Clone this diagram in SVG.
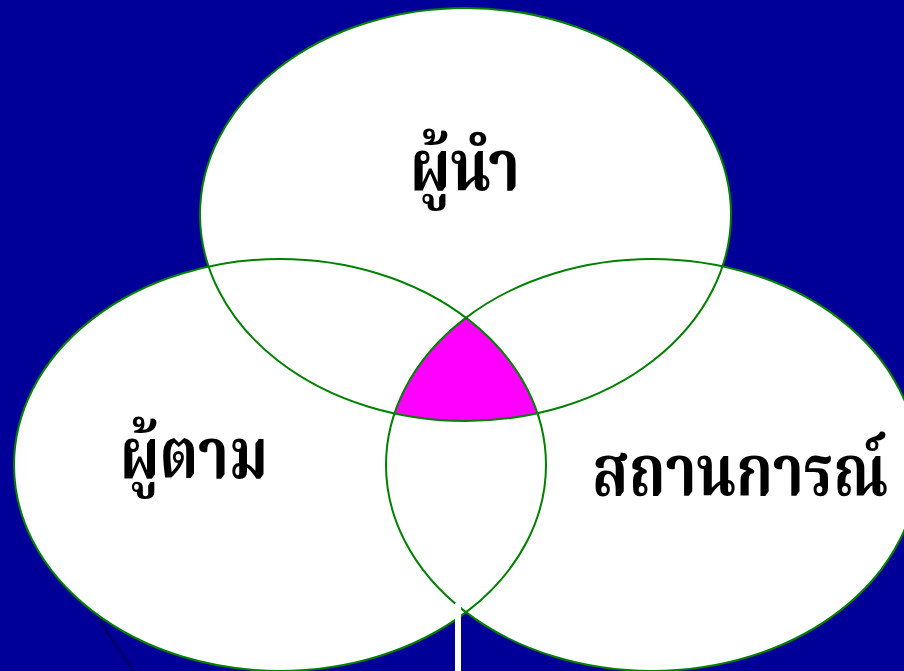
<svg xmlns="http://www.w3.org/2000/svg" width="904" height="671" viewBox="0 0 904 671">
<style>
.ell{fill:#ffffff;stroke:none}
.out{fill:none;stroke:#008000;stroke-width:2}
.lbl{font-family:"Noto Serif Thai","Noto Sans Thai","Tlwg Typo","Noto Sans",serif;font-weight:bold;fill:#000000;text-anchor:middle}
</style>
<defs>
<clipPath id="cl"><ellipse cx="280" cy="465" rx="266" ry="206"/></clipPath>
<clipPath id="cr"><ellipse cx="652" cy="465" rx="266" ry="206"/></clipPath>
</defs>
<rect x="0" y="0" width="904" height="671" fill="#000099"/>
<line x1="97" y1="617" x2="134" y2="671" stroke="#00006e" stroke-width="3"/>
<g id="fills">
<ellipse class="ell" cx="465.5" cy="214.5" rx="265.5" ry="206.5"/>
<ellipse class="ell" cx="280" cy="465" rx="266" ry="206"/>
<ellipse class="ell" cx="652" cy="465" rx="266" ry="206"/>
<g clip-path="url(#cl)"><g clip-path="url(#cr)"><ellipse cx="465.5" cy="214.5" rx="265.5" ry="206.5" fill="#ff00ff"/></g></g>
</g>
<g id="leader">
<ellipse class="out" cx="465.5" cy="214.5" rx="265.5" ry="206.5"/>
<text class="lbl" x="465" y="190" font-size="72" textLength="110" lengthAdjust="spacingAndGlyphs">ผู้นำ</text>
</g>
<g id="follower">
<ellipse class="out" cx="280" cy="465" rx="266" ry="206"/>
<text class="lbl" x="194" y="478" font-size="72" textLength="148" lengthAdjust="spacingAndGlyphs">ผู้ตาม</text>
</g>
<g id="situation">
<ellipse class="out" cx="652" cy="465" rx="266" ry="206"/>
<text class="lbl" x="740" y="495" font-size="72" textLength="296" lengthAdjust="spacingAndGlyphs">สถานการณ์</text>
</g>
<g id="connectors">
<rect x="455" y="603" width="6" height="68" fill="#ffffff"/>
</g>
</svg>
